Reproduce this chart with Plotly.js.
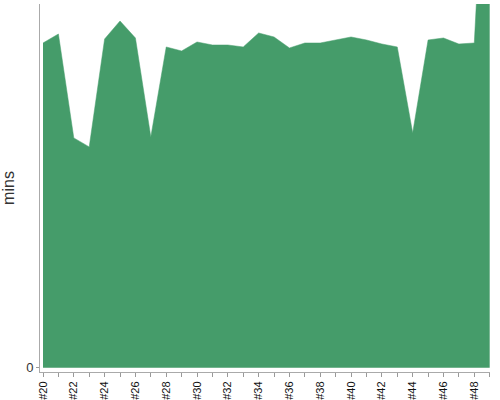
<!DOCTYPE html>
<html>
<head>
<meta charset="utf-8">
<script src="https://cdn.plot.ly/plotly-3.0.1.min.js"></script>
<style>html,body{margin:0;padding:0;background:#fff}#chart{width:500px;height:400px}</style>
</head>
<body>
<div id="chart"></div>
<script>
const categories = ["#20","#21","#22","#23","#24","#25","#26","#27","#28","#29","#30","#31","#32","#33","#34","#35","#36","#37","#38","#39","#40","#41","#42","#43","#44","#45","#46","#47","#48","#49"];
const mins = [325,334,230,221,329,347,330,231,321,317,326,323,323,321,335,331,320,325,325,328,331,328,324,321,235,328,330,324,325,620];
const tickLabels = categories.map((c, i) => i % 2 === 0 ? c : "");

const xIdx = categories.map((c, i) => i);

Plotly.newPlot("chart", [{
  x: xIdx,
  y: mins,
  type: "scatter",
  mode: "lines",
  fill: "tozeroy",
  fillcolor: "#459c6a",
  line: {color: "#459c6a", width: 0.5, shape: "linear"},
  hoverinfo: "skip"
}], {
  width: 500, height: 400,
  margin: {l: 40, r: 10, t: 4, b: 28},
  paper_bgcolor: "#fff", plot_bgcolor: "#fff",
  showlegend: false,
  font: {family: "Liberation Sans, Arial, sans-serif", color: "#222"},
  xaxis: {
    range: [-0.195, 29.02],
    tickmode: "array", tickvals: xIdx, ticktext: tickLabels,
    tickangle: -90, ticks: "outside", ticklen: 4, tickcolor: "#999",
    tickfont: {size: 11, color: "#111"},
    showline: true, linecolor: "#aaa", linewidth: 1,
    showgrid: false, zeroline: false
  },
  yaxis: {
    range: [-4.3, 364],
    tickmode: "array", tickvals: [0], ticktext: ["0"],
    ticks: "outside", ticklen: 3, tickcolor: "#999",
    tickfont: {size: 13, color: "#333"},
    showline: true, linecolor: "#aaa", linewidth: 1,
    showgrid: false, zeroline: false,
    title: {text: "mins", font: {size: 16, color: "#333"}, standoff: 9}
  }
}, {displayModeBar: false, staticPlot: true});
</script>
</body>
</html>
